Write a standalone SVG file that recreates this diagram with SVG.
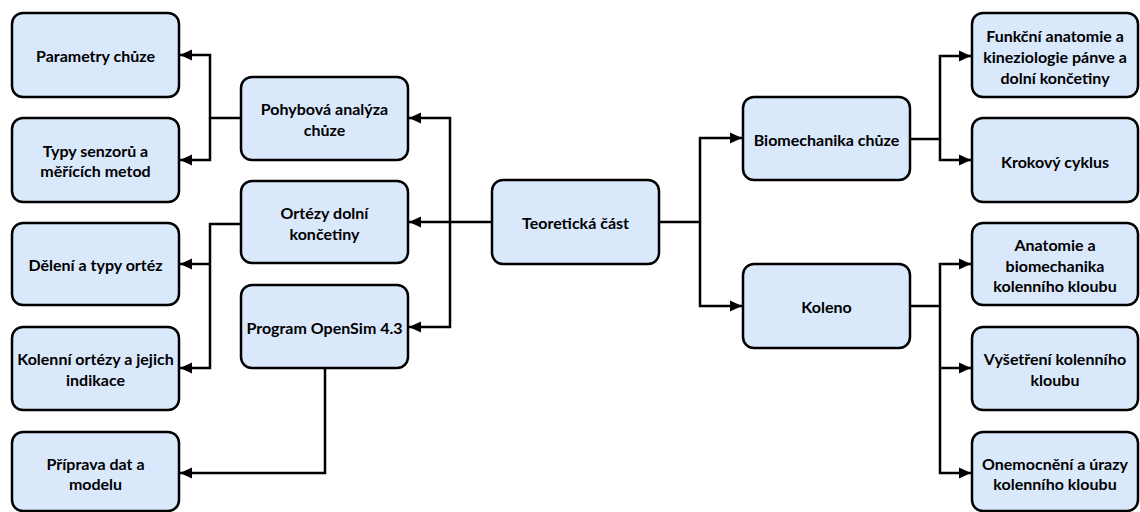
<svg xmlns="http://www.w3.org/2000/svg" width="1140" height="512" viewBox="0 0 1140 512">
<style>
.box{fill:#dae8fc;stroke:#000;stroke-width:2.5}
.t{font-family:Lato,"Open Sans",sans-serif;font-weight:bold;font-size:16px;fill:#000;text-anchor:middle;dominant-baseline:central}
.c{fill:none;stroke:#000;stroke-width:2.5}
</style>
<defs>
<marker id="ah" markerUnits="userSpaceOnUse" markerWidth="12" markerHeight="12" viewBox="0 0 12 12" refX="12" refY="6" orient="auto">
<path d="M0,0.5 L12,6 L0,11.5 Z" fill="#000"/>
</marker>
</defs>
<rect width="1140" height="512" fill="#fff"/>
<g id="connectors">
<path class="c" d="M492,222 H409" marker-end="url(#ah)"/>
<path class="c" d="M450,222 V118 H409" marker-end="url(#ah)"/>
<path class="c" d="M450,222 V327 H409" marker-end="url(#ah)"/>
<path class="c" d="M659,222 H700 V138 H742" marker-end="url(#ah)"/>
<path class="c" d="M700,222 V306 H742" marker-end="url(#ah)"/>
<path class="c" d="M241,118 H210 V55 H180" marker-end="url(#ah)"/>
<path class="c" d="M210,118 V160 H180" marker-end="url(#ah)"/>
<path class="c" d="M241,224 H210 V368 H180" marker-end="url(#ah)"/>
<path class="c" d="M210,264 H180" marker-end="url(#ah)"/>
<path class="c" d="M325,368 V473 H180" marker-end="url(#ah)"/>
<path class="c" d="M910,139 H940 V56 H971" marker-end="url(#ah)"/>
<path class="c" d="M940,139 V160 H971" marker-end="url(#ah)"/>
<path class="c" d="M910,306 H940 V473 H971" marker-end="url(#ah)"/>
<path class="c" d="M940,306 V264 H971" marker-end="url(#ah)"/>
<path class="c" d="M940,368 H971" marker-end="url(#ah)"/>
</g>
<g id="n-teoreticka"><rect class="box" x="492" y="180" width="167" height="84" rx="11"/><text class="t" x="575.5" y="222">Teoretická část</text></g>
<g id="n-pohybova"><rect class="box" x="241" y="77" width="167" height="83" rx="11"/><text class="t" x="324.5" y="108">Pohybová analýza</text><text class="t" x="324.5" y="129">chůze</text></g>
<g id="n-ortezy"><rect class="box" x="241" y="181" width="167" height="82" rx="11"/><text class="t" x="324.5" y="212">Ortézy dolní</text><text class="t" x="324.5" y="233">končetiny</text></g>
<g id="n-opensim"><rect class="box" x="241" y="285" width="167" height="83" rx="11"/><text class="t" x="324.5" y="327">Program OpenSim 4.3</text></g>
<g id="n-parametry"><rect class="box" x="12" y="13" width="167" height="84" rx="11"/><text class="t" x="95.5" y="55">Parametry chůze</text></g>
<g id="n-typy"><rect class="box" x="12" y="118" width="167" height="84" rx="11"/><text class="t" x="95.5" y="150">Typy senzorů a</text><text class="t" x="95.5" y="170">měřících metod</text></g>
<g id="n-deleni"><rect class="box" x="12" y="223" width="167" height="82" rx="11"/><text class="t" x="95.5" y="264">Dělení a typy ortéz</text></g>
<g id="n-kolenni"><rect class="box" x="12" y="327" width="167" height="83" rx="11"/><text class="t" x="95.5" y="358">Kolenní ortézy a jejich</text><text class="t" x="95.5" y="379">indikace</text></g>
<g id="n-priprava"><rect class="box" x="12" y="432" width="167" height="79" rx="11"/><text class="t" x="95.5" y="463">Příprava dat a</text><text class="t" x="95.5" y="483">modelu</text></g>
<g id="n-biomech"><rect class="box" x="743" y="97" width="167" height="83" rx="11"/><text class="t" x="826.5" y="139">Biomechanika chůze</text></g>
<g id="n-koleno"><rect class="box" x="743" y="264" width="167" height="84" rx="11"/><text class="t" x="826.5" y="306">Koleno</text></g>
<g id="n-funkcni"><rect class="box" x="972" y="13" width="166" height="84" rx="11"/><text class="t" x="1055" y="35">Funkční anatomie a</text><text class="t" x="1055" y="56">kineziologie pánve a</text><text class="t" x="1055" y="77">dolní končetiny</text></g>
<g id="n-krokovy"><rect class="box" x="972" y="118" width="166" height="84" rx="11"/><text class="t" x="1055" y="161">Krokový cyklus</text></g>
<g id="n-anatomie"><rect class="box" x="972" y="223" width="166" height="82" rx="11"/><text class="t" x="1055" y="244">Anatomie a</text><text class="t" x="1055" y="265">biomechanika</text><text class="t" x="1055" y="285">kolenního kloubu</text></g>
<g id="n-vysetreni"><rect class="box" x="972" y="327" width="166" height="83" rx="11"/><text class="t" x="1055" y="358">Vyšetření kolenního</text><text class="t" x="1055" y="379">kloubu</text></g>
<g id="n-onemocneni"><rect class="box" x="972" y="432" width="166" height="79" rx="11"/><text class="t" x="1055" y="463">Onemocnění a úrazy</text><text class="t" x="1055" y="483">kolenního kloubu</text></g>
</svg>
